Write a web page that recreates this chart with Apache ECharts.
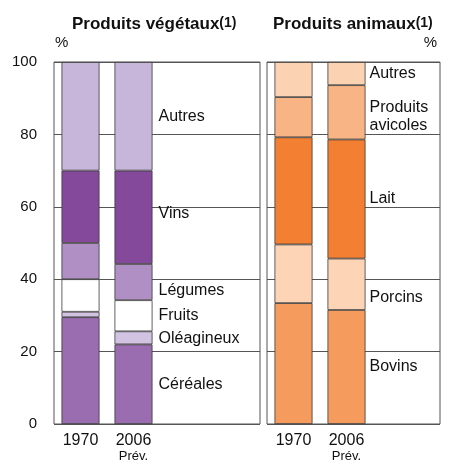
<!DOCTYPE html>
<html>
<head>
<meta charset="utf-8">
<script src="https://cdn.jsdelivr.net/npm/echarts@6/dist/echarts.min.js"></script>
<style>
    html, body { margin: 0; padding: 0; background: #fff; }
    #main { width: 466px; height: 470px; }
</style>
</head>
<body>
<div id="main"></div>
<script>
// données (% de la production)
var annees = ['1970', '2006'];
var yTicks = [0, 20, 40, 60, 80, 100];

// produits végétaux, de bas en haut
var vegNoms = ['Céréales', 'Oléagineux', 'Fruits', 'Légumes', 'Vins', 'Autres'];
var cereales = [29.5, 22];
var oleagineux = [1.5, 3.6];
var fruits = [9, 8.6];
var legumes = [10, 10];
var vins = [20, 25.8];
var autresVeg = [30, 30];

// produits animaux, de bas en haut
var aniNoms = ['Bovins', 'Porcins', 'Lait', 'Produits\navicoles', 'Autres'];
var bovins = [33.4, 31.5];
var porcins = [16.2, 14.2];
var lait = [29.6, 32.9];
var avicoles = [11.1, 15];
var autresAni = [9.7, 6.4];

var vegValeurs = [cereales, oleagineux, fruits, legumes, vins, autresVeg];
var aniValeurs = [bovins, porcins, lait, avicoles, autresAni];

var vegCouleurs = ['#9a6cb0', '#d3c3e2', '#ffffff', '#b08fc4', '#85499c', '#c8b5da'];
var aniCouleurs = ['#f59b5e', '#fdd5b6', '#f37f32', '#f9b486', '#fcd3b2'];
// petit décalage vertical des libellés
var vegDecal = [0, 1, 0, 8, -4, 0];
var aniDecal = [0, 13, 0, 4, 0];

var police = 'Liberation Sans';
var myChart = echarts.init(document.getElementById('main'));

function faireSeries(noms, valeurs, couleurs, decal, idx, pile, dist) {
    var out = [];
    for (var i = 0; i < noms.length; i++) {
        var data = [];
        for (var j = 0; j < valeurs[i].length; j++) {
            if (j == valeurs[i].length - 1) {
                data.push({
                    value: valeurs[i][j],
                    label: {
                        show: true,
                        position: 'right',
                        distance: dist,
                        offset: [0, decal[i]],
                        formatter: noms[i],
                        color: '#111',
                        fontSize: 16,
                        lineHeight: 18,
                        fontFamily: police
                    }
                });
            } else {
                data.push(valeurs[i][j]);
            }
        }
        out.push({
            name: noms[i],
            type: 'bar',
            stack: pile,
            xAxisIndex: idx,
            yAxisIndex: idx,
            barWidth: 38,
            itemStyle: { color: couleurs[i], borderColor: '#3a3a3a', borderWidth: 0.8 },
            data: data
        });
    }
    return out;
}

var labelAnnee = {
    interval: 0,
    margin: 8, color: '#111', fontSize: 16, fontFamily: police, lineHeight: 17,
    formatter: function (v) { return v == '2006' ? v + '\n{p|Prév.}' : v; },
    rich: { p: { fontSize: 13, color: '#111', fontFamily: police, lineHeight: 14 } }
};
var styleTitre = {
    fontSize: 17, fontWeight: 'bold', color: '#111', fontFamily: police,
    rich: { s: { fontSize: 14, fontWeight: 'bold', color: '#111', fontFamily: police, padding: [0, 0, 3, 0] } }
};

var option = {
    animation: false,
    textStyle: { fontFamily: police },
    title: [
        { text: 'Produits végétaux{s|(1)}', left: 67, top: 11, textStyle: styleTitre },
        { text: 'Produits animaux{s|(1)}', left: 268, top: 11, textStyle: styleTitre }
    ],
    grid: [
        // cadres
        { left: 54, top: 62, width: 206, height: 362, show: true, borderColor: '#555', borderWidth: 1, backgroundColor: 'transparent' },
        { left: 267, top: 62, width: 173, height: 362, show: true, borderColor: '#555', borderWidth: 1, backgroundColor: 'transparent' },
        // barres
        { left: 54, top: 62, width: 106, height: 362 },
        { left: 267, top: 62, width: 106, height: 362 }
    ],
    xAxis: [
        { type: 'value', gridIndex: 0, show: false, min: 0, max: 1 },
        { type: 'value', gridIndex: 1, show: false, min: 0, max: 1 },
        { type: 'category', gridIndex: 2, data: annees, axisLine: { show: false }, axisTick: { show: false }, axisLabel: labelAnnee },
        { type: 'category', gridIndex: 3, data: annees, axisLine: { show: false }, axisTick: { show: false }, axisLabel: labelAnnee }
    ],
    yAxis: [
        {
            type: 'value', gridIndex: 0, min: yTicks[0], max: yTicks[yTicks.length - 1], interval: 20,
            name: '%', nameLocation: 'end', nameGap: 12,
            nameTextStyle: { color: '#111', fontSize: 15, fontFamily: police, align: 'left', padding: [0, 0, 0, 1] },
            axisLine: { show: false, onZero: false }, axisTick: { show: false },
            axisLabel: { color: '#111', fontSize: 15, fontFamily: police, margin: 17 },
            splitLine: { lineStyle: { color: '#555', width: 1 } }
        },
        {
            type: 'value', gridIndex: 1, position: 'right', min: yTicks[0], max: yTicks[yTicks.length - 1], interval: 20,
            name: '%', nameLocation: 'end', nameGap: 12,
            nameTextStyle: { color: '#111', fontSize: 15, fontFamily: police, align: 'right', padding: [0, 3, 0, 0] },
            axisLine: { show: false, onZero: false }, axisTick: { show: false },
            axisLabel: { show: false },
            splitLine: { lineStyle: { color: '#555', width: 1 } }
        },
        { type: 'value', gridIndex: 2, min: 0, max: 100, show: false, splitLine: { show: false } },
        { type: 'value', gridIndex: 3, min: 0, max: 100, show: false, splitLine: { show: false } }
    ],
    series: faireSeries(vegNoms, vegValeurs, vegCouleurs, vegDecal, 2, 'veg', 6)
        .concat(faireSeries(aniNoms, aniValeurs, aniCouleurs, aniDecal, 3, 'ani', 4))
};

myChart.setOption(option);
</script>
</body>
</html>
